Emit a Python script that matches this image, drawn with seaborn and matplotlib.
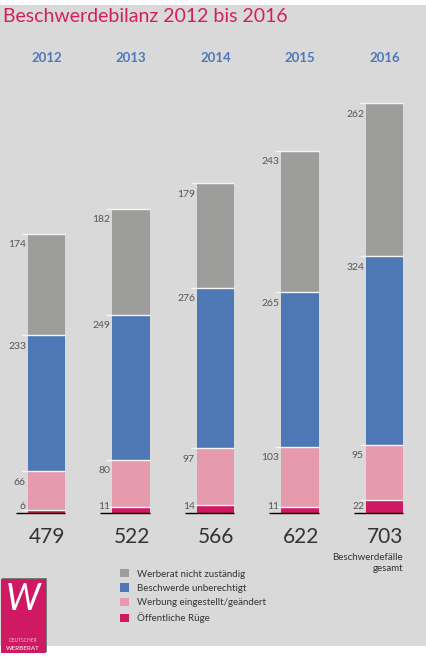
import numpy as np
import pandas as pd
import matplotlib.pyplot as plt
import seaborn as sns
from matplotlib.patches import Rectangle

# Beschwerdebilanz data (per year)
years = ["2012", "2013", "2014", "2015", "2016"]
ruege = [6, 11, 14, 11, 22]                    # Öffentliche Rüge
eingestellt = [66, 80, 97, 103, 95]            # Werbung eingestellt/geändert
unberechtigt = [233, 249, 276, 265, 324]       # Beschwerde unberechtigt
nicht_zustaendig = [174, 182, 179, 243, 262]   # Werberat nicht zuständig
totals = [479, 522, 566, 622, 703]

labels = ["Werberat nicht zuständig", "Beschwerde unberechtigt",
          "Werbung eingestellt/geändert", "Öffentliche Rüge"]
colors = ["#9d9d9b", "#4e77b6", "#e59aad", "#cf1a63"]

sns.set_style("white")
plt.rcParams['font.family'] = ['Lato', 'DejaVu Sans']

W, H = 426, 659
PXU = 0.5826          # pixels per complaint
BASE = 513            # baseline pixel row
SPACING = 84.5        # pixels between bar centres
BW = 0.438            # bar width (category units)

fig = plt.figure(figsize=(W / 100, H / 100), dpi=100)
fig.patch.set_facecolor("white")
ax = fig.add_axes([0, 0, 1, 1])
ax.axis("off")

def ypx(p):
    return (BASE - p) / PXU

def xpx(p):
    return p / SPACING

# grey background panel
ax.add_patch(Rectangle((0, 13 / H), 1, 641 / H, transform=ax.transAxes,
                       facecolor="#d9d9d9", edgecolor="none", zorder=0))

# stacked layers, bottom -> top
layers = [ruege, eingestellt, unberechtigt, nicht_zustaendig]
cum = np.cumsum(np.array(layers), axis=0)
df = pd.DataFrame({"year": years})

# draw from top layer down so lower layers cover upper
for k in range(3, -1, -1):
    df["v"] = cum[k]
    sns.barplot(data=df, x="year", y="v", color=colors[3 - k], saturation=1,
                width=BW, linewidth=0, errorbar=None, label=labels[3 - k],
                ax=ax, zorder=2)

ax.set_xlim(-46.5 / SPACING, (W - 46.5) / SPACING)
ax.set_ylim(ypx(H), ypx(0))
ax.axis("off")

xs = np.arange(len(years))
left = xs - BW / 2
right = xs + BW / 2

# separator lines and segment labels
for k in range(4):
    ax.hlines(cum[k], left - xpx(6), right, color="#f4f4f4", lw=1, zorder=3)
    for i in range(len(years)):
        yc = max(cum[k][i] - 11 / PXU, 6.5 / PXU)
        ax.text(left[i] - xpx(2), yc, str(layers[k][i]), ha="right", va="center",
                fontsize=7.5, color="#555555", zorder=4)

ax.hlines(np.zeros(len(years)), left - xpx(12), right, color="black", lw=1, zorder=4)

# year headers and totals
for i, yr in enumerate(years):
    ax.text(xs[i], ypx(58), yr, ha="center", va="center", fontsize=9.5,
            fontweight="bold", color="#5077bb")
    ax.text(right[i] + xpx(0.5), ypx(537), str(totals[i]), ha="right", va="center",
            fontsize=15, color="#333333")

ax.text(right[-1], ypx(558), "Beschwerdefälle", ha="right", va="center",
        fontsize=7, color="#333333")
ax.text(right[-1], ypx(568.5), "gesamt", ha="right", va="center",
        fontsize=7, color="#333333")

# title
ax.text(3 / W, 1 - 17 / H, "Beschwerdebilanz 2012 bis 2016", transform=ax.transAxes,
        ha="left", va="center", fontsize=14, color="#d2205f")

# legend
leg = ax.legend(loc="upper left", bbox_to_anchor=(120 / W, 1 - 569 / H), frameon=False,
                fontsize=7, handlelength=0.95, handleheight=0.95, labelspacing=0.5,
                handletextpad=0.8, borderaxespad=0, borderpad=0)
for t in leg.get_texts():
    t.set_color("#333333")

# logo
ax.add_patch(Rectangle((2 / W, 1 - 652 / H), 45 / W, 74 / H, transform=ax.transAxes,
                       facecolor="#7a7a7a", edgecolor="none", zorder=5))
ax.add_patch(Rectangle((1 / W, 1 - 653 / H), 45 / W, 74 / H, transform=ax.transAxes,
                       facecolor="#cf1a63", edgecolor="none", zorder=6))
ax.text(23 / W, 1 - 600 / H, "W", transform=ax.transAxes, ha="center", va="center",
        fontsize=26, color="white", fontstyle="italic", zorder=7)
ax.text(23 / W, 1 - 641 / H, "DEUTSCHER", transform=ax.transAxes, ha="center",
        va="center", fontsize=3.5, color="#f3b6c9", zorder=7)
ax.text(23 / W, 1 - 648 / H, "WERBERAT", transform=ax.transAxes, ha="center",
        va="center", fontsize=4.5, color="white", zorder=7)

fig.savefig("out.png", dpi=100)
